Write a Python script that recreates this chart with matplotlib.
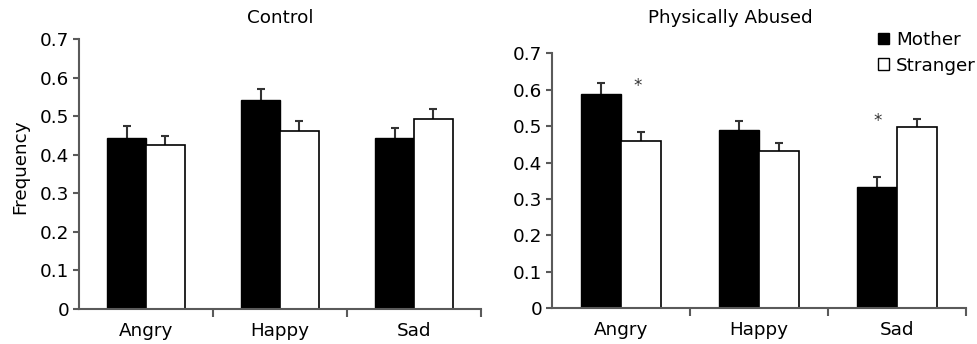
import matplotlib
matplotlib.use("Agg")
import matplotlib.pyplot as plt
from matplotlib.patches import Patch
import numpy as np

plt.rcParams['font.family'] = ['DejaVu Sans']

categories = ["Angry", "Happy", "Sad"]
control_mother = [0.444, 0.542, 0.444]
control_mother_err = [0.030, 0.028, 0.027]
control_stranger = [0.425, 0.462, 0.494]
control_stranger_err = [0.025, 0.026, 0.026]
abused_mother = [0.589, 0.489, 0.333]
abused_mother_err = [0.030, 0.026, 0.027]
abused_stranger = [0.460, 0.433, 0.497]
abused_stranger_err = [0.024, 0.020, 0.023]
star_x = [0.12, 1.86]
star_y = [0.61, 0.515]
yticks = [0, 0.1, 0.2, 0.3, 0.4, 0.5, 0.6, 0.7]
ytick_labels = ["0", "0.1", "0.2", "0.3", "0.4", "0.5", "0.6", "0.7"]

FS = 13.2
W, H = 978, 344
fig = plt.figure(figsize=(W / 100, H / 100), dpi=100)
ax1 = fig.add_axes([79 / W, 35 / H, 402 / W, 269.7 / H])
ax2 = fig.add_axes([552 / W, 35.7 / H, 414 / W, 255 / H])

spine_col = "#5a5a5a"
bw = 0.29

def draw(ax, m, me, s, se):
    x = np.arange(len(categories))
    ax.bar(x - bw / 2, m, bw, color="black", edgecolor="black", linewidth=1, zorder=2)
    ax.bar(x + bw / 2, s, bw, color="white", edgecolor="black", linewidth=1.2, zorder=2)
    for xs, v, e in ((x - bw / 2, m, me), (x + bw / 2, s, se)):
        eb = ax.errorbar(xs, v, yerr=[np.zeros(3), e], fmt="none", ecolor="#333333",
                         elinewidth=1.5, capsize=3, capthick=1.5, zorder=1)
        caps = eb[1]
        if len(caps) == 2:
            caps[0].set_visible(False)
    ax.set_xlim(-0.5, 2.5)
    ax.set_ylim(0, 0.7)
    ax.set_yticks(yticks)
    ax.set_yticklabels(ytick_labels)
    ax.set_xticks([0.5, 1.5, 2.5])
    ax.set_xticklabels([])
    ax.set_xticks(x, minor=True)
    ax.set_xticklabels(categories, minor=True)
    ax.tick_params(axis="x", which="minor", length=0, labelsize=FS, pad=9)
    ax.tick_params(axis="x", which="major", length=6, width=1.5, color=spine_col, direction="out")
    ax.tick_params(axis="y", length=4, width=1.5, color=spine_col, labelsize=FS, pad=3)
    for sp in ["top", "right"]:
        ax.spines[sp].set_visible(False)
    for sp in ["left", "bottom"]:
        ax.spines[sp].set_color(spine_col)
        ax.spines[sp].set_linewidth(1.5)

draw(ax1, control_mother, control_mother_err, control_stranger, control_stranger_err)
draw(ax2, abused_mother, abused_mother_err, abused_stranger, abused_stranger_err)

fig.text(20 / W, 1 - 167 / H, "Frequency", rotation=90, ha="center", va="center", fontsize=FS)
for xs, ys in zip(star_x, star_y):
    ax2.text(xs, ys, "*", ha="center", va="center", fontsize=12, color="#333333")

fig.text(280 / W, 1 - 18 / H, "Control", ha="center", va="center", fontsize=FS)
fig.text(730 / W, 1 - 18 / H, "Physically Abused", ha="center", va="center", fontsize=FS)

handles = [Patch(facecolor="black", edgecolor="black", label="Mother"),
           Patch(facecolor="white", edgecolor="black", label="Stranger")]
fig.legend(handles=handles, loc="upper left", bbox_to_anchor=(878 / W, 1 - 31 / H),
           frameon=False, fontsize=FS, handlelength=0.6, handleheight=0.6,
           handletextpad=0.38, labelspacing=0.42, borderpad=0, borderaxespad=0)

fig.savefig("out.png", dpi=100)
